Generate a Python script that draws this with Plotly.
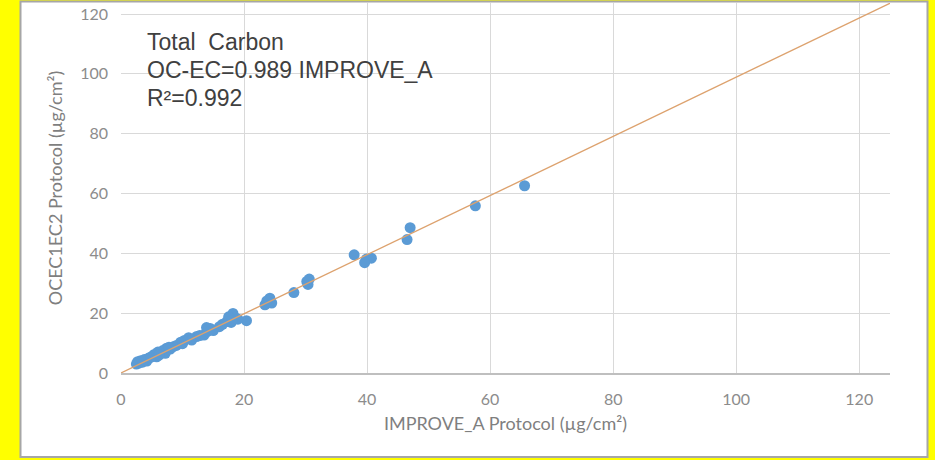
import plotly.graph_objects as go

# Total carbon loadings (µg/cm²) measured by the two thermal protocols
improve_a = [65.6, 57.6, 47.0, 46.5, 37.9, 39.9, 40.7, 39.6, 30.6, 30.4,
             30.2, 28.1, 24.2, 23.4, 24.5, 23.7, 20.4, 18.2, 17.9, 18.7,
             17.2, 16.0, 14.5, 14.0, 13.5, 12.3, 11.0, 10.3, 9.7, 8.5,
             7.4, 6.5, 5.4, 4.5, 3.2, 2.9, 2.5, 3.8, 4.2, 5.0,
             5.8, 6.0, 6.8, 7.2, 8.0, 9.0, 10.0, 11.5, 12.8, 13.9,
             15.0, 16.5, 17.5, 19.0, 18.0, 2.7, 3.5, 4.8, 6.2, 7.8]
ocec1ec2 = [62.6, 55.9, 48.6, 44.6, 39.5, 38.1, 38.4, 36.9, 31.4, 29.6,
            30.6, 26.9, 25.0, 22.8, 23.4, 24.1, 17.5, 19.9, 16.9, 18.3,
            17.2, 15.5, 14.9, 13.8, 12.7, 12.2, 11.8, 10.9, 10.3, 8.8,
            8.3, 6.7, 6.2, 5.0, 4.1, 3.3, 3.0, 4.5, 4.0, 5.5,
            5.4, 7.0, 7.5, 6.6, 8.0, 9.2, 9.8, 11.0, 12.5, 15.2,
            14.2, 16.3, 18.8, 18.0, 17.5, 3.8, 3.6, 5.2, 6.0, 8.6]

slope = 0.989
r_squared = 0.992
fit_x = [0, 125]
fit_y = [slope * v for v in fit_x]

tick_vals = [0, 20, 40, 60, 80, 100, 120]

fig = go.Figure()
fig.add_trace(go.Scatter(
    x=improve_a, y=ocec1ec2, mode="markers",
    marker=dict(color="#5B9BD5", size=11, line=dict(width=0)),
    hoverinfo="x+y", showlegend=False,
))
fig.add_trace(go.Scatter(
    x=fit_x, y=fit_y, mode="lines",
    line=dict(color="#DDA26E", width=1.3),
    hoverinfo="skip", showlegend=False,
))

# plot area spans x 121..890 px and y 3..373 px
L, R, T, B = 121, 890, 3, 373
W, H = 935, 460


def px_x(p):
    return (p - L) / (R - L)


def px_y(p):
    return (B - p) / (B - T)


# white chart panel with a grey frame on the yellow page
fig.add_shape(type="rect", xref="paper", yref="paper",
              x0=px_x(20.5), x1=px_x(927.5), y0=px_y(457), y1=px_y(1.5),
              line=dict(color="#A6A6A6", width=2), fillcolor="white",
              layer="below")

# fit summary, one line per annotation
summary_lines = [
    "Total  Carbon",
    "OC-EC=%.3f IMPROVE_A" % slope,
    "R²=%.3f" % r_squared,
]
for i, line in enumerate(summary_lines):
    fig.add_annotation(
        xref="paper", yref="paper", x=px_x(145), y=px_y(42 + 28 * i),
        xanchor="left", yanchor="middle", align="left", showarrow=False,
        text=line,
        font=dict(family="Liberation Sans, Arial", size=23, color="#404040"),
    )

axis_font = dict(family="Lato, Open Sans", size=16, color="#8C8C8C")
title_font = dict(family="Lato, Open Sans", size=18, color="#7F7F7F")
fig.update_xaxes(
    range=[0, 125], tickvals=tick_vals, showgrid=True,
    gridcolor="#D9D9D9", gridwidth=1, zeroline=False,
    showline=True, linecolor="#BFBFBF", linewidth=1.5,
    ticks="", tickfont=axis_font, ticklabelstandoff=11,
    title=dict(text="IMPROVE_A Protocol (µg/cm²)", standoff=10,
               font=title_font),
)
fig.update_yaxes(
    range=[0, 123.7], tickvals=tick_vals, showgrid=True,
    gridcolor="#D9D9D9", gridwidth=1, zeroline=False,
    showline=False, ticks="", tickfont=axis_font, ticklabelstandoff=12,
    title=dict(text="OCEC1EC2 Protocol (µg/cm²)", standoff=12,
               font=title_font),
)

fig.update_layout(
    width=W, height=H,
    margin=dict(l=L, r=W - R, t=T, b=H - B),
    paper_bgcolor="#FFFF00", plot_bgcolor="rgba(0,0,0,0)",
)

fig.write_html("out.html")
